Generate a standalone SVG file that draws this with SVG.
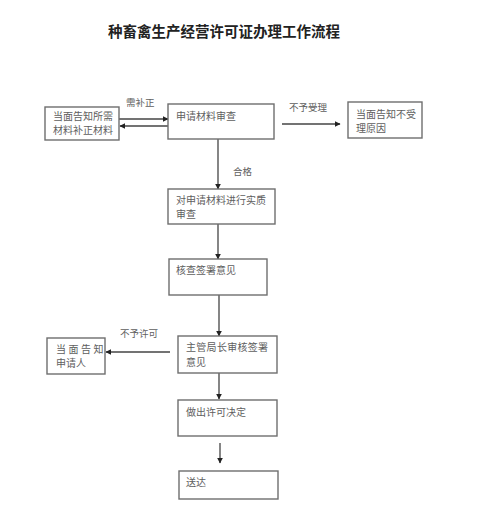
<svg xmlns="http://www.w3.org/2000/svg" width="500" height="507" viewBox="0 0 500 507">
<style>
.box{fill:#fff;stroke:#6e6e6e;stroke-width:1.4}
.t{font-family:"Noto Sans CJK SC","Liberation Serif",serif;font-size:10px;fill:#5e5e5e}
.lb{font-family:"Noto Sans CJK SC","Liberation Serif",serif;font-size:9.5px;fill:#5e5e5e}
.title{font-family:"Noto Sans CJK SC",sans-serif;font-size:14.5px;font-weight:bold;fill:#222}
.ln{stroke:#444;stroke-width:1.3;fill:none}
</style>
<defs>
<marker id="ah" viewBox="0 0 10 10" refX="9" refY="5" markerWidth="6" markerHeight="6" markerUnits="userSpaceOnUse" orient="auto">
<path d="M0,0 L10,5 L0,10 z" fill="#222"/>
</marker>
</defs>
<rect width="500" height="507" fill="#fff"/>
<text class="title" x="108" y="37">种畜禽生产经营许可证办理工作流程</text>

<g id="connectors">
<line class="ln" x1="119" y1="119" x2="168" y2="119" marker-end="url(#ah)"/>
<line class="ln" x1="168" y1="126" x2="120" y2="126" marker-end="url(#ah)"/>
<text class="lb" x="126" y="106">需补正</text>
<line class="ln" x1="282" y1="124" x2="340" y2="124" marker-end="url(#ah)"/>
<text class="lb" x="289" y="111">不予受理</text>
<line class="ln" x1="218" y1="139" x2="218" y2="189" marker-end="url(#ah)"/>
<text class="lb" x="233" y="175">合格</text>
<line class="ln" x1="218" y1="224" x2="218" y2="259" marker-end="url(#ah)"/>
<line class="ln" x1="219" y1="295" x2="219" y2="336" marker-end="url(#ah)"/>
<line class="ln" x1="170" y1="352" x2="106" y2="352" marker-end="url(#ah)"/>
<text class="lb" x="120" y="337">不予许可</text>
<line class="ln" x1="219" y1="373" x2="219" y2="399" marker-end="url(#ah)"/>
<line class="ln" x1="220" y1="443" x2="220" y2="463" marker-end="url(#ah)"/>
</g>

<g id="n-supplement">
<rect class="box" x="45" y="107" width="74" height="33"/>
<text class="t" x="53" y="120">当面告知所需</text>
<text class="t" x="53" y="134">材料补正材料</text>
</g>
<g id="n-review">
<rect class="box" x="168" y="104" width="106" height="35"/>
<text class="t" x="176" y="120">申请材料审查</text>
</g>
<g id="n-reject">
<rect class="box" x="348" y="102" width="74" height="36"/>
<text class="t" x="356" y="118">当面告知不受</text>
<text class="t" x="356" y="132">理原因</text>
</g>
<g id="n-substantive">
<rect class="box" x="168" y="189" width="107" height="35"/>
<text class="t" x="176" y="204">对申请材料进行实质</text>
<text class="t" x="176" y="218">审查</text>
</g>
<g id="n-verify">
<rect class="box" x="169" y="259" width="98" height="36"/>
<text class="t" x="176" y="274">核查签署意见</text>
</g>
<g id="n-director">
<rect class="box" x="178" y="336" width="99" height="37"/>
<text class="t" x="186" y="351" letter-spacing="0.3">主管局长审核签署</text>
<text class="t" x="186" y="366">意见</text>
</g>
<g id="n-notify">
<rect class="box" x="47" y="338" width="58" height="36"/>
<text class="t" x="56" y="353" letter-spacing="2.5">当面告知</text>
<text class="t" x="56" y="367">申请人</text>
</g>
<g id="n-decision">
<rect class="box" x="178" y="400" width="99" height="36"/>
<text class="t" x="186" y="416">做出许可决定</text>
</g>
<g id="n-deliver">
<rect class="box" x="179" y="471" width="99" height="28"/>
<text class="t" x="186" y="486">送达</text>
</g>
</svg>
